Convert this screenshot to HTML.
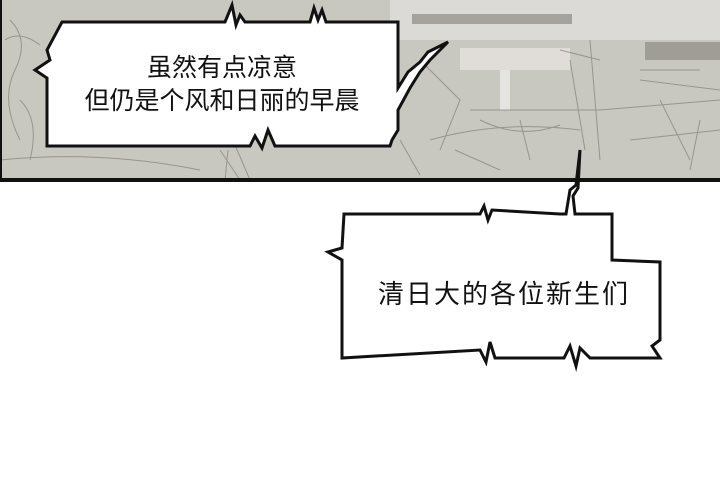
<!DOCTYPE html>
<html><head><meta charset="utf-8"><style>
html,body{margin:0;padding:0;background:#fff;width:720px;height:500px;overflow:hidden}
svg{display:block}
text{font-family:"Liberation Sans","Noto Sans CJK SC",sans-serif;font-size:25px;fill:#111}
</style></head><body>
<svg width="720" height="500" viewBox="0 0 720 500">
<rect x="0" y="0" width="720" height="181" fill="#c9c8c0"/>
<rect x="390" y="0" width="330" height="40" fill="#dcdad6"/>
<g fill="#8e8a84" opacity="0.7">
<rect x="412" y="14" width="160" height="10"/><rect x="645" y="42" width="75" height="18"/>
</g>
<rect x="460" y="48" width="110" height="22" fill="#e0ddd9"/>
<rect x="500" y="70" width="10" height="40" fill="#e6e4e0"/>
<g stroke="#6e6a64" stroke-width="1" fill="none" opacity="0.55">
<path d="M10 20 Q30 40 15 70 T20 140"/><path d="M20 100 Q40 120 30 160"/><path d="M470 110 L600 110 L720 100"/><path d="M430 140 Q500 120 580 130"/>
<path d="M220 150 L240 180 M235 145 L250 180 M228 150 L225 180"/><path d="M590 40 L600 160 M570 60 L585 150 M560 50 L600 60"/><path d="M420 60 L460 100 L440 150"/>
<path d="M0 160 Q100 150 200 170"/><path d="M630 140 L720 130"/><path d="M660 100 L690 160 M700 120 L690 170"/>
<path d="M480 120 Q520 140 560 125 M520 120 L530 160 M455 150 L500 170"/><path d="M400 140 L420 175"/>
<path d="M5 40 Q20 30 40 45"/><path d="M640 80 L720 90 M640 70 L700 70"/>
</g>
<rect x="0" y="0" width="2" height="182" fill="#111"/>
<rect x="0" y="178" width="720" height="4" fill="#111"/>
<path d="M62 22 L225 22 L232 5 L236 25 L240 15 L245 22 L310 22 L314 8 L318 20 L322 10 L326 22 L398 22 L398 88 L408 72 L420 62 L428 52 L448 42 L430 60 L420 72 L410 88 L398 110 L398 130 L392 140 L390 146 L275 146 L268 130 L262 148 L255 136 L250 146 L47 146 L47 78 L35 70 L50 60 L47 50 Z" fill="#fff" stroke="#111" stroke-width="3" stroke-linejoin="miter"/>
<text x="222" y="76" text-anchor="middle">虽然有点凉意</text>
<text x="222" y="109" text-anchor="middle">但仍是个风和日丽的早晨</text>
<path d="M344 214 L480 214 L484 206 L488 220 L492 210 L560 214 L566 214 L570 190 L576 185 L580 150 L578 188 L573 196 L575 214 L612 214 L612 260 L660 262 L660 340 L652 346 L660 358 L590 358 L580 348 L576 366 L570 346 L564 358 L495 358 L490 342 L486 362 L480 350 L342 358 L342 260 L328 252 L342 248 Z" fill="#fff" stroke="#111" stroke-width="3" stroke-linejoin="miter"/>
<text x="504" y="303" text-anchor="middle" style="font-size:26px;letter-spacing:2px">清日大的各位新生们</text>
</svg>
</body></html>
